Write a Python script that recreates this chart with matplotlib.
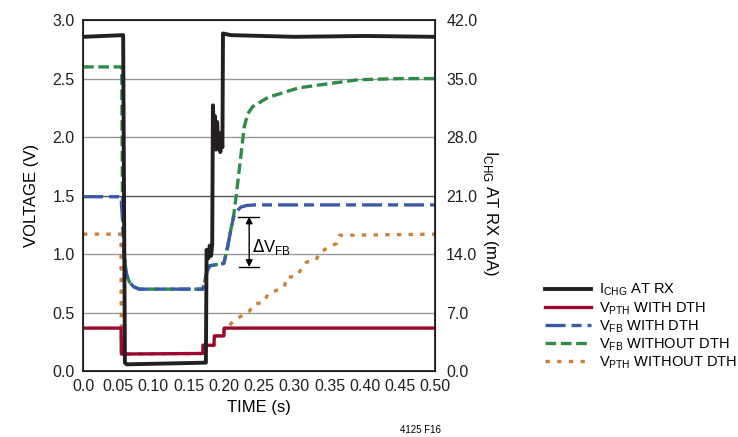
import matplotlib
matplotlib.use('Agg')
import matplotlib.pyplot as plt

plt.rcParams['font.family'] = ['Liberation Sans Narrow', 'Liberation Sans', 'DejaVu Sans']

# I_CHG at RX (mA) - right axis
ichg_t = [0.0, 0.057, 0.0595, 0.062, 0.12, 0.1745, 0.1755, 0.178, 0.180, 0.182, 0.1835,
          0.1845, 0.186, 0.1875, 0.189, 0.1905, 0.192, 0.1935, 0.195, 0.1965, 0.198,
          0.1988, 0.21, 0.30, 0.40, 0.50]
ichg_ma = [40.0, 40.2, 1.0, 0.8, 0.9, 1.0, 14.5, 13.5, 15.0, 13.8, 15.2,
           31.8, 28.0, 30.5, 26.5, 29.8, 27.0, 28.5, 26.2, 27.5, 26.8,
           40.4, 40.2, 40.0, 40.1, 40.0]

# V_PTH with DTH (V)
vpth_t = [0.0, 0.054, 0.0545, 0.17, 0.1705, 0.186, 0.1865, 0.2, 0.2005, 0.5]
vpth_v = [0.367, 0.367, 0.145, 0.15, 0.22, 0.22, 0.30, 0.30, 0.367, 0.367]

# V_FB with DTH (V)
vfb_t = [0.0, 0.054, 0.056, 0.058, 0.062, 0.066, 0.072, 0.08, 0.17, 0.172, 0.176,
         0.180, 0.20, 0.205, 0.21, 0.214, 0.219, 0.224, 0.232, 0.243, 0.5]
vfb_v = [1.49, 1.49, 1.30, 1.00, 0.82, 0.76, 0.72, 0.70, 0.70, 0.74, 0.85,
         0.90, 0.92, 1.05, 1.21, 1.32, 1.37, 1.40, 1.415, 1.42, 1.42]

# V_FB without DTH (V)
vfb_no_t = [0.0, 0.055, 0.056, 0.058, 0.062, 0.066, 0.072, 0.08, 0.17, 0.172, 0.176,
            0.180, 0.20, 0.205, 0.21, 0.214, 0.217, 0.224, 0.229, 0.234, 0.241,
            0.263, 0.306, 0.353, 0.391, 0.45, 0.5]
vfb_no_v = [2.60, 2.60, 1.50, 1.00, 0.82, 0.76, 0.72, 0.70, 0.70, 0.74, 0.85,
            0.90, 0.92, 1.05, 1.21, 1.33, 1.47, 1.83, 2.09, 2.20, 2.26,
            2.34, 2.42, 2.46, 2.49, 2.50, 2.50]

# V_PTH without DTH (V)
vpth_no_t = [0.0, 0.054, 0.0545, 0.17, 0.1705, 0.186, 0.1865, 0.2, 0.2005, 0.205,
             0.214, 0.236, 0.243, 0.257, 0.263, 0.271, 0.286, 0.289, 0.303, 0.31,
             0.317, 0.331, 0.336, 0.349, 0.36, 0.364, 0.5]
vpth_no_v = [1.17, 1.17, 0.145, 0.15, 0.22, 0.22, 0.30, 0.30, 0.367, 0.37,
             0.43, 0.51, 0.57, 0.59, 0.66, 0.68, 0.72, 0.80, 0.81, 0.87,
             0.93, 0.95, 1.01, 1.06, 1.09, 1.16, 1.17]

x_ticks = [0.0, 0.05, 0.10, 0.15, 0.20, 0.25, 0.30, 0.35, 0.40, 0.45, 0.50]
x_labels = ['0.0', '0.05', '0.10', '0.15', '0.20', '0.25', '0.30', '0.35', '0.40', '0.45', '0.50']
v_ticks = [0.0, 0.5, 1.0, 1.5, 2.0, 2.5, 3.0]
ma_ticks = [0.0, 7.0, 14.0, 21.0, 28.0, 35.0, 42.0]

fig = plt.figure(figsize=(7.38, 4.37), dpi=100)
ax = fig.add_axes([0.1125, 0.151, 0.477, 0.803])
ax2 = ax.twinx()

for v in v_ticks[1:-1]:
    ax.axhline(v, color='#999999' if v != 1.5 else '#555555', lw=1.0, zorder=0)

l_vpth_no, = ax.plot(vpth_no_t, vpth_no_v, color='#c8803a', lw=2.4,
                     dashes=(1.3, 2.2), label='V$_{\\mathregular{PTH}}$ WITHOUT DTH', zorder=2)
l_vpth, = ax.plot(vpth_t, vpth_v, color='#9b0a2e', lw=2.4,
                  label='V$_{\\mathregular{PTH}}$ WITH DTH', zorder=3)
l_vfb_no, = ax.plot(vfb_no_t, vfb_no_v, color='#2e8b4a', lw=2.4,
                    dashes=(3.2, 1.4), label='V$_{\\mathregular{FB}}$ WITHOUT DTH', zorder=3)
l_vfb, = ax.plot(vfb_t, vfb_v, color='#3a5bab', lw=2.4,
                 dashes=(6, 1.8, 3, 1.8), label='V$_{\\mathregular{FB}}$ WITH DTH', zorder=4)
l_ichg, = ax2.plot(ichg_t, ichg_ma, color='#231f20', lw=2.8,
                   label='I$_{\\mathregular{CHG}}$ AT RX', zorder=5)

# delta V_FB annotation
ax.plot([0.221, 0.25], [0.89, 0.89], color='black', lw=1.0)
ax.plot([0.22, 0.25], [1.32, 1.32], color='black', lw=1.0)
ax.annotate('', xy=(0.236, 1.32), xytext=(0.236, 0.89),
            arrowprops=dict(arrowstyle='<|-|>', color='black', lw=1.0,
                            shrinkA=0, shrinkB=0, mutation_scale=10))
ax.text(0.24, 1.06, '$\\Delta$V$_{\\mathregular{FB}}$', fontsize=12, va='center', ha='left')

ax.set_xlim(0, 0.5)
ax.set_ylim(0, 3.0)
ax2.set_ylim(0, 42.0)
ax.set_xticks(x_ticks)
ax.set_xticklabels(x_labels)
ax.set_yticks(v_ticks)
ax.set_yticklabels(['%.1f' % v for v in v_ticks])
ax2.set_yticks(ma_ticks)
ax2.set_yticklabels(['%.1f' % v for v in ma_ticks])
ax.tick_params(length=0, labelsize=11.5, pad=6, labelcolor='#231f20')
ax2.tick_params(length=0, labelsize=11.5, pad=8, labelcolor='#231f20')

for sp in ax2.spines.values():
    sp.set_linewidth(1.3)
    sp.set_color('#231f20')

ax.set_xlabel('TIME (s)', fontsize=12, labelpad=4)
ax.set_ylabel('VOLTAGE (V)', fontsize=12, labelpad=10)
ax2.set_ylabel('I$_{\\mathregular{CHG}}$ AT RX (mA)', fontsize=12, rotation=-90)
ax2.yaxis.set_label_coords(1.185, 0.45)

handles = [l_ichg, l_vpth, l_vfb, l_vfb_no, l_vpth_no]
fig.legend(handles=handles, loc='upper left', bbox_to_anchor=(0.728, 0.372),
           frameon=False, fontsize=10.5, handlelength=3.2, handletextpad=0.5,
           labelspacing=0.1, borderpad=0)

fig.text(0.57, 0.005, '4125 F16', fontsize=7, ha='center', va='bottom')

fig.savefig('out.png', dpi=100)
